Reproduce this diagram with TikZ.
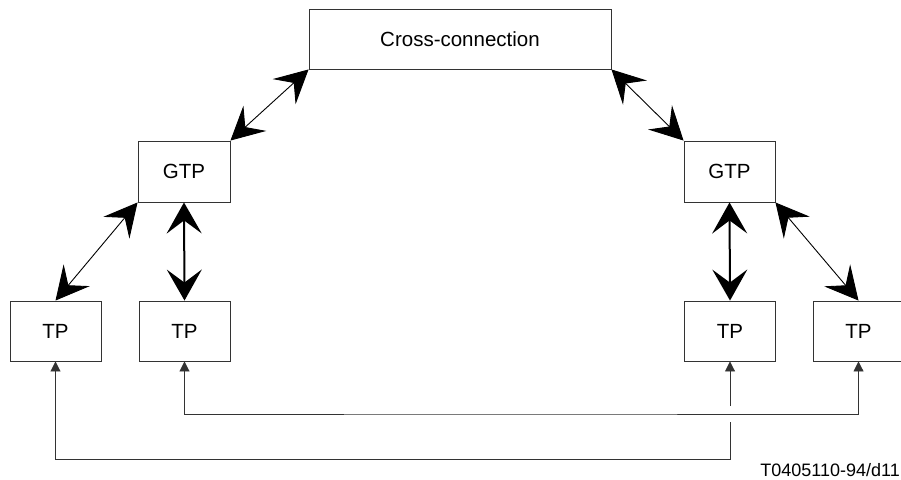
\documentclass[tikz,border=0pt]{standalone}
\usepackage{fontspec}
\setmainfont{Liberation Sans}
\usetikzlibrary{arrows.meta}

\begin{document}
\begin{tikzpicture}[x=1pt,y=-1pt,%
% common options for the boxes:
box/.style = {draw=black!80, line width=0.9pt, align=center, inner sep=0,
            font=\fontsize{20.5}{24}\selectfont},
% common arrow tips:
big/.tip = {Stealth[length=33pt,width=34pt,inset=13pt]},
bigv/.tip = {Stealth[length=31pt,width=35pt,inset=13pt]},
tri/.tip = {Triangle[length=10pt,width=10pt]},
% common options for the connectors:
link/.style = {line width=0.9pt, big-big},
bold/.style = {line width=2pt, bigv-bigv},
wire/.style = {draw=black!80, line width=0.9pt}]
\useasboundingbox (0,0) rectangle (901,479);
\node[box,minimum width=302pt,minimum height=60pt] (cross) at (460,39) {Cross-connection};
\node[box,minimum width=92pt,minimum height=61pt] (gtpL) at (184,171.5) {GTP};
\node[box,minimum width=91pt,minimum height=61pt] (gtpR) at (729.5,171.5) {GTP};
\node[box,minimum width=91pt,minimum height=60pt] (tp1) at (55.5,331) {TP};
\node[box,minimum width=91pt,minimum height=60pt] (tp2) at (184.5,331) {TP};
\node[box,minimum width=91pt,minimum height=60pt] (tp3) at (730,331) {TP};
\node[box,minimum width=91pt,minimum height=60pt] (tp4) at (858.5,331) {TP};
\node[anchor=base east,inner sep=0,font=\fontsize{18}{20}\selectfont] (code) at (900,476) {T0405110-94/d11};
\draw[link] (gtpL.north east) -- (cross.south west);
\draw[link] (cross.south east) -- (gtpR.north west);
\draw[link] (gtpL.south west) -- (tp1.north);
\draw[link] (gtpR.south east) -- (tp4.north);
\draw[bold] (gtpL.south) -- (tp2.north);
\draw[bold] (gtpR.south) -- (tp3.north);
\coordinate (low) at (730,459);
\coordinate (jumpA) at (730,422);
\coordinate (jumpB) at (730,406);
\coordinate (mid) at (500,414);
\draw[wire,tri-] (tp1.south) |- (low) -- (jumpA);
\draw[wire,-tri] (jumpB) -- (tp3.south);
\draw[wire,tri-tri] (tp2.south) |- (mid) -| (tp4.south);
\end{tikzpicture}
\end{document}
